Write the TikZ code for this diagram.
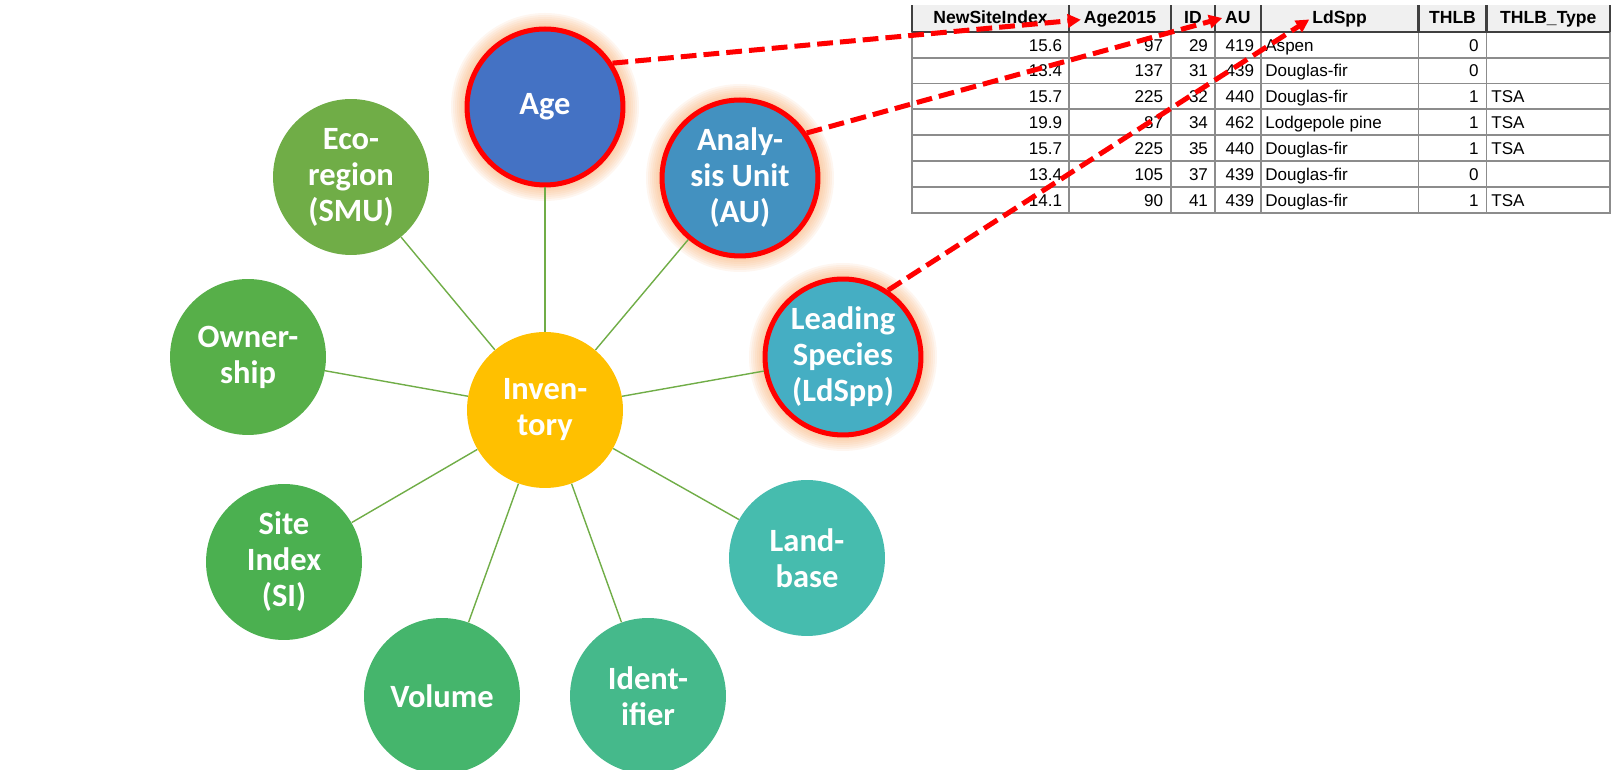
\documentclass[tikz,border=0pt]{standalone}
\usepackage{fontspec}
\setmainfont{Carlito}
\newfontfamily\tabfont{Liberation Sans}
\usetikzlibrary{arrows.meta,backgrounds}

\definecolor{cAge}{HTML}{4472C4}
\definecolor{cAU}{HTML}{4391C0}
\definecolor{cLd}{HTML}{45AEC3}
\definecolor{cLand}{HTML}{46BCAE}
\definecolor{cIdent}{HTML}{45B98B}
\definecolor{cVol}{HTML}{45B56C}
\definecolor{cSI}{HTML}{4BB050}
\definecolor{cOwn}{HTML}{57AF49}
\definecolor{cEco}{HTML}{70AD47}
\definecolor{cInv}{HTML}{FFC000}
\definecolor{glowc}{HTML}{F7A868}
\definecolor{gridc}{HTML}{8C8C8C}
\definecolor{sepc}{HTML}{404040}
\definecolor{hdrc}{HTML}{F0F0F0}

\begin{document}
\begin{tikzpicture}[x=0.02cm, y=0.02cm,
	bubble/.style={circle, minimum size=3.12cm, inner sep=0pt, text=white, align=center, font=\fontsize{18.5}{20.5}\selectfont\bfseries},
	hot/.style={bubble, draw=red, line width=2.85pt},
	spoke/.style={draw=cEco, line width=0.8pt},
	link/.style={draw=red, line width=2.85pt, dash pattern=on 9pt off 4pt, -{Triangle[length=7.5pt, width=7.5pt]}},
	grid/.style={draw=gridc, line width=1.1pt},
	sep/.style={draw=sepc, line width=1.3pt},
	hd/.style={font=\tabfont\fontsize{10}{12}\selectfont\bfseries, inner sep=1.5pt, anchor=base},
	num/.style={font=\tabfont\fontsize{9.7}{12}\selectfont, inner sep=0pt, anchor=base east},
	txt/.style={font=\tabfont\fontsize{9.7}{12}\selectfont, inner sep=0pt, anchor=base west}]
	\useasboundingbox (0,0) rectangle (1613,770);

	% the wheel
	\node[bubble, fill=cInv] (inv) at (545,360) {Inven-\\tory};
	\node[hot, fill=cAge] (age) at (545,663) {Age};
	\node[hot, fill=cAU] (au) at (740,592) {Analy-\\sis Unit\\(AU)};
	\node[hot, fill=cLd] (ld) at (843,413) {Leading\\Species\\(LdSpp)};
	\node[bubble, fill=cLand] (land) at (807,212) {Land-\\base};
	\node[bubble, fill=cIdent] (ident) at (648,74) {Ident-\\ifier};
	\node[bubble, fill=cVol] (vol) at (442,74) {Volume};
	\node[bubble, fill=cSI] (si) at (284,208) {Site\\Index\\(SI)};
	\node[bubble, fill=cOwn] (own) at (248,413) {Owner-\\ship};
	\node[bubble, fill=cEco] (eco) at (351,593) {Eco-\\region\\(SMU)};

	\draw[spoke] (inv) -- (age);
	\draw[spoke] (inv) -- (au);
	\draw[spoke] (inv) -- (ld);
	\draw[spoke] (inv) -- (land);
	\draw[spoke] (inv) -- (ident);
	\draw[spoke] (inv) -- (vol);
	\draw[spoke] (inv) -- (si);
	\draw[spoke] (inv) -- (own);
	\draw[spoke] (inv) -- (eco);

	% glow behind the selected fields
	\begin{scope}[on background layer]
		\foreach \r in {82,84,...,94} {
			\fill[glowc, opacity=0.1] (age) circle (\r);
			\fill[glowc, opacity=0.1] (au) circle (\r);
			\fill[glowc, opacity=0.1] (ld) circle (\r);
		}
	\end{scope}

	% the table
	\fill[hdrc] (911.7,738.3) rectangle (1610,765);
	\draw[grid] (911.7,557) rectangle (1610,738.3);
	\draw[grid] (911.7,712.4) -- (1610,712.4);
	\draw[grid] (911.7,686.5) -- (1610,686.5);
	\draw[grid] (911.7,660.6) -- (1610,660.6);
	\draw[grid] (911.7,634.7) -- (1610,634.7);
	\draw[grid] (911.7,608.8) -- (1610,608.8);
	\draw[grid] (911.7,582.9) -- (1610,582.9);
	\draw[grid] (1069.3,557) -- (1069.3,738.3);
	\draw[grid] (1170.7,557) -- (1170.7,738.3);
	\draw[grid] (1215,557) -- (1215,738.3);
	\draw[grid] (1260.7,557) -- (1260.7,738.3);
	\draw[grid] (1418.5,557) -- (1418.5,738.3);
	\draw[grid] (1486.5,557) -- (1486.5,738.3);
	\draw[sep] (911.7,738.3) -- (1610,738.3);
	\draw[sep] (911.7,738.3) -- (911.7,765);
	\draw[sep] (1069.3,738.3) -- (1069.3,765);
	\draw[sep] (1170.7,738.3) -- (1170.7,765);
	\draw[sep] (1215,738.3) -- (1215,765);
	\draw[sep] (1260.7,738.3) -- (1260.7,765);
	\draw[sep] (1418.5,738.3) -- (1418.5,765);
	\draw[sep] (1486.5,738.3) -- (1486.5,765);
	\draw[sep] (1610,738.3) -- (1610,765);

	\node[hd] (hNSI) at (990.5,746) {NewSiteIndex};
	\node[hd] (hAge) at (1120,746) {Age2015};
	\node[hd] (hID) at (1192.9,746) {ID};
	\node[hd] (hAU) at (1237.9,746) {AU};
	\node[hd] (hLd) at (1339.6,746) {LdSpp};
	\node[hd] (hTHLB) at (1452.5,746) {THLB};
	\node[hd] (hType) at (1548.3,746) {THLB\_Type};

	\node[num] (a1) at (1062.5,718.9) {15.6};
	\node[num] (b1) at (1163.5,718.9) {97};
	\node[num] (c1) at (1208.3,718.9) {29};
	\node[num] (d1) at (1254.5,718.9) {419};
	\node[txt] (e1) at (1265,718.9) {Aspen};
	\node[num] (f1) at (1479,718.9) {0};

	\node[num] (a2) at (1062.5,693) {13.4};
	\node[num] (b2) at (1163.5,693) {137};
	\node[num] (c2) at (1208.3,693) {31};
	\node[num] (d2) at (1254.5,693) {439};
	\node[txt] (e2) at (1265,693) {Douglas-fir};
	\node[num] (f2) at (1479,693) {0};

	\node[num] (a3) at (1062.5,667.1) {15.7};
	\node[num] (b3) at (1163.5,667.1) {225};
	\node[num] (c3) at (1208.3,667.1) {32};
	\node[num] (d3) at (1254.5,667.1) {440};
	\node[txt] (e3) at (1265,667.1) {Douglas-fir};
	\node[num] (f3) at (1479,667.1) {1};
	\node[txt] (g3) at (1491,667.1) {TSA};

	\node[num] (a4) at (1062.5,641.2) {19.9};
	\node[num] (b4) at (1163.5,641.2) {87};
	\node[num] (c4) at (1208.3,641.2) {34};
	\node[num] (d4) at (1254.5,641.2) {462};
	\node[txt] (e4) at (1265,641.2) {Lodgepole pine};
	\node[num] (f4) at (1479,641.2) {1};
	\node[txt] (g4) at (1491,641.2) {TSA};

	\node[num] (a5) at (1062.5,615.3) {15.7};
	\node[num] (b5) at (1163.5,615.3) {225};
	\node[num] (c5) at (1208.3,615.3) {35};
	\node[num] (d5) at (1254.5,615.3) {440};
	\node[txt] (e5) at (1265,615.3) {Douglas-fir};
	\node[num] (f5) at (1479,615.3) {1};
	\node[txt] (g5) at (1491,615.3) {TSA};

	\node[num] (a6) at (1062.5,589.4) {13.4};
	\node[num] (b6) at (1163.5,589.4) {105};
	\node[num] (c6) at (1208.3,589.4) {37};
	\node[num] (d6) at (1254.5,589.4) {439};
	\node[txt] (e6) at (1265,589.4) {Douglas-fir};
	\node[num] (f6) at (1479,589.4) {0};

	\node[num] (a7) at (1062.5,563.5) {14.1};
	\node[num] (b7) at (1163.5,563.5) {90};
	\node[num] (c7) at (1208.3,563.5) {41};
	\node[num] (d7) at (1254.5,563.5) {439};
	\node[txt] (e7) at (1265,563.5) {Douglas-fir};
	\node[num] (f7) at (1479,563.5) {1};
	\node[txt] (g7) at (1491,563.5) {TSA};

	% fields to columns
	\draw[link] (age.33) -- (hAge.west);
	\draw[link] (au.34) -- (hAU.west);
	\draw[link] (ld.56) -- (hLd.west);
\end{tikzpicture}
\end{document}
